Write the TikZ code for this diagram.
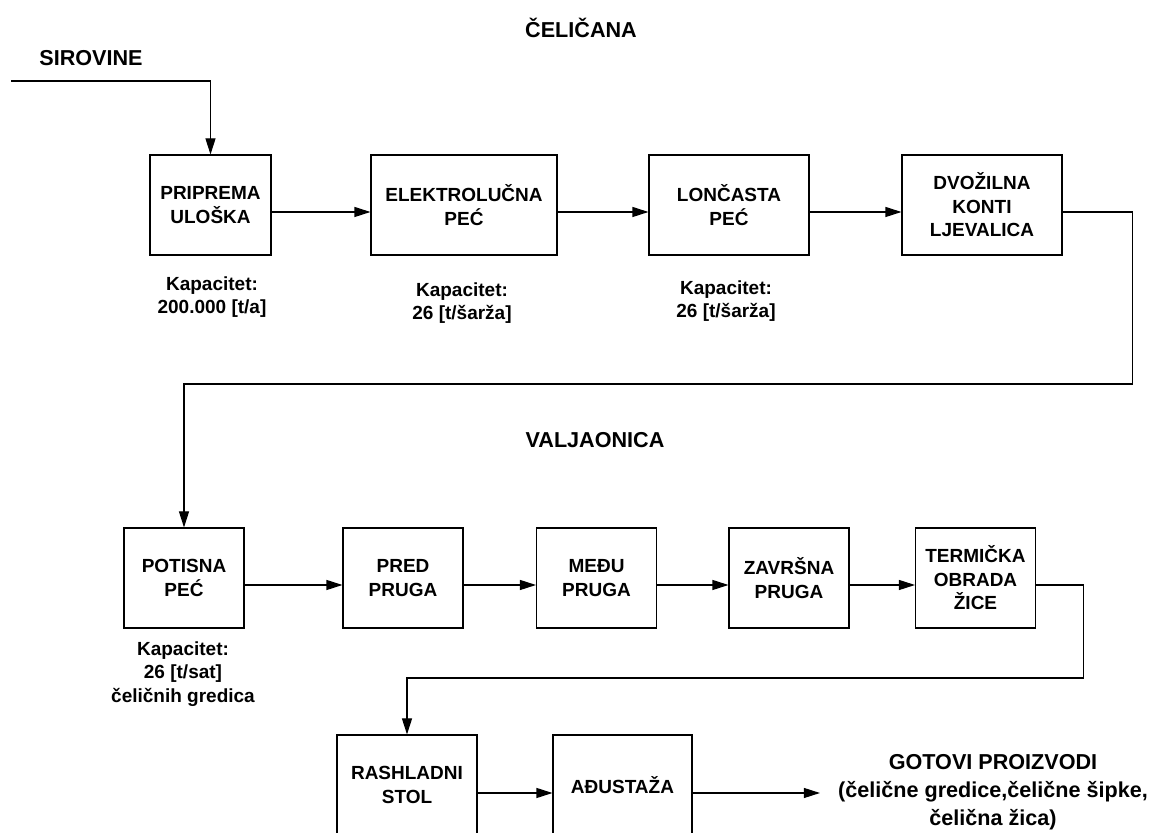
\documentclass[tikz,border=0pt]{standalone}
\usepackage{fontspec}
\setmainfont{Liberation Sans}
\usetikzlibrary{arrows.meta,positioning}
\newcommand{\blokfont}{\fontsize{19}{23.5}\selectfont\bfseries}
\newcommand{\naslovfont}{\fontsize{21.6}{28}\selectfont\bfseries}

\begin{document}
\begin{tikzpicture}[x=1pt, y=1pt,
    every node/.style={font=\blokfont},
    blok/.style={draw, line width=1.1pt, minimum height=100pt, align=center, inner sep=0pt},
    kap/.style={align=center, inner sep=0pt},
    naslov/.style={font=\naslovfont, align=center, inner sep=0pt},
    tok/.style={->, line width=1.1pt},
    >={Triangle[length=16pt,width=10pt]}]
  \useasboundingbox (0,0) rectangle (1153,832);
  % Headings
  \node[naslov] (celicana) at (581,804) {ČELIČANA};
  \node[naslov] (sirovine) at (91,774) {SIROVINE};
  \node[naslov] (valjaonica) at (595,391.5) {VALJAONICA};
  % Celicana row
  \foreach \n/\x/\w/\lab in {prep/210.5/121/{PRIPREMA\\ULOŠKA},
      eaf/464/186/{ELEKTROLUČNA\\PEĆ}, ladle/729/160/{LONČASTA\\PEĆ},
      caster/982/160/{DVOŽILNA\\KONTI\\LJEVALICA}}
    \node[blok, minimum width=\w] (\n) at (\x,627) {\lab};
  \node[kap] (prepkap) at (212,535) {Kapacitet:\\200.000 [t/a]};
  \node[kap] (eafkap) at (462,529) {Kapacitet:\\26 [t/šarža]};
  \node[kap] (ladlekap) at (726,531) {Kapacitet:\\26 [t/šarža]};
  % Valjaonica row
  \foreach \n/\x/\lab in {potisna/184/{POTISNA\\PEĆ}, pred/403/{PRED\\PRUGA},
      medju/596.5/{MEĐU\\PRUGA}, zavrs/789/{ZAVRŠNA\\PRUGA},
      term/975.5/{TERMIČKA\\OBRADA\\ŽICE}}
    \node[blok, minimum width=120] (\n) at (\x,254) {\lab};
  \node[kap] (potisnakap) at (183,158) {Kapacitet:\\26 [t/sat]\\čeličnih gredica};
  % Last row
  \node[blok, minimum width=140] (rash) at (407,47) {RASHLADNI\\STOL};
  \node[blok, minimum width=139] (adj) at (622.5,47) {AĐUSTAŽA};
  \node[naslov] (out) at (993,40)
    {GOTOVI PROIZVODI\\(čelične gredice,čelične šipke,\\čelična žica)};
  % Connectors
  \coordinate (ulaz) at (11,751);
  \draw[tok] (ulaz) -| (prep.north);
  \foreach \a/\b in {prep/eaf, eaf/ladle, ladle/caster}
    \draw[tok] ([yshift=-7pt]\a.east) -- ([yshift=-7pt]\b.west);
  \draw[tok] ([yshift=-7pt]caster.east) -- ++(70,0) -- ++(0,-172) -| (potisna.north);
  \foreach \a/\b in {potisna/pred, pred/medju, medju/zavrs, zavrs/term}
    \draw[tok] ([yshift=-7pt]\a.east) -- ([yshift=-7pt]\b.west);
  \draw[tok] ([yshift=-7pt]term.east) -- ++(47,0) -- ++(0,-93) -| (rash.north);
  \draw[tok] ([yshift=-8pt]rash.east) -- ([yshift=-8pt]adj.west);
  \draw[tok, shorten >=18pt] ([yshift=-8pt]adj.east) -- ([yshift=-8pt]adj.east -| out.west);
\end{tikzpicture}
\end{document}
